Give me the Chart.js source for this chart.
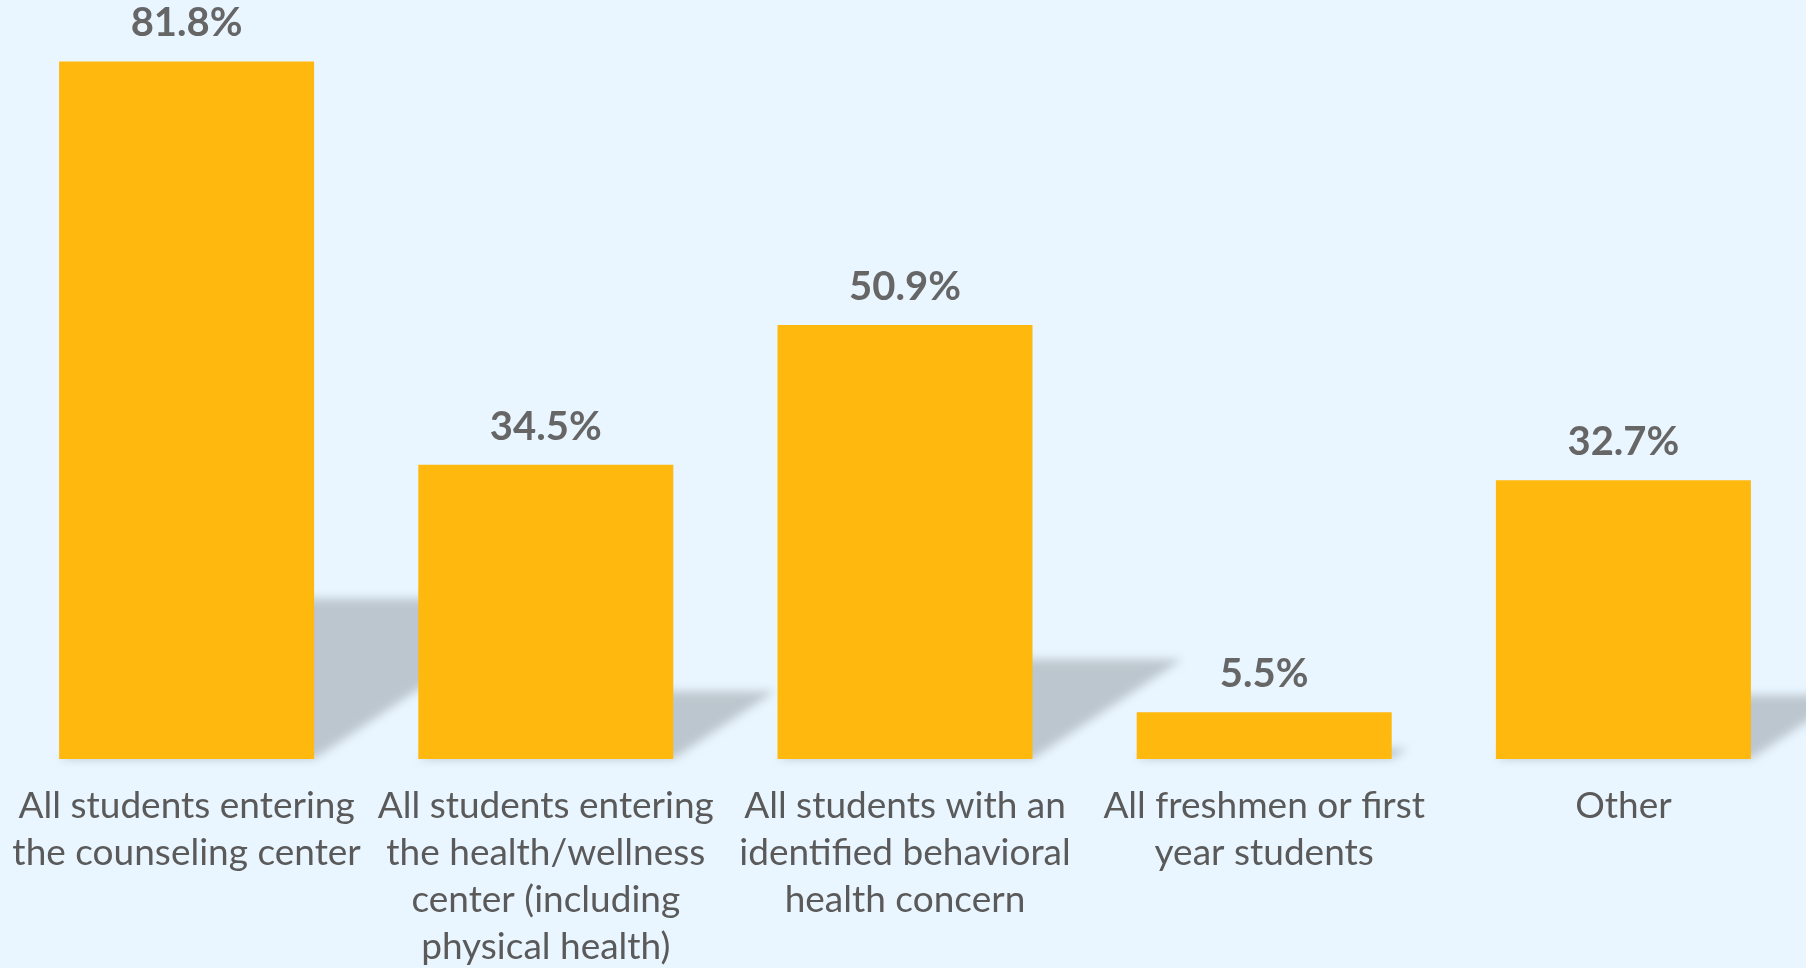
<!DOCTYPE html>
<html>
<head>
<meta charset="utf-8">
<script src="https://cdn.jsdelivr.net/npm/chart.js@4"></script>
<style>
  html, body { margin: 0; padding: 0; background: #eaf6ff; }
  #screening { display: block; }
</style>
</head>
<body>
<canvas id="screening" width="1806" height="968"></canvas>
<script>
// categories and percentages
var categories = [
    ['All students entering', 'the counseling center'],
    ['All students entering', 'the health/wellness', 'center (including', 'physical health)'],
    ['All students with an', 'identified behavioral', 'health concern'],
    ['All freshmen or first', 'year students'],
    ['Other']
];
var percents = [81.8, 34.5, 50.9, 5.5, 32.7];

var barColor = '#ffb80d';
var textGray = '#5a5a5a';

// slanted grey "floor" shadow behind each bar
var shadowPlugin = {
    id: 'barShadow',
    beforeDatasetsDraw: (chart) => {
        var ctx = chart.ctx;
        var meta = chart.getDatasetMeta(0);
        ctx.save();
        ctx.filter = 'blur(5px)';
        ctx.fillStyle = '#bcc6ce';
        meta.data.forEach((bar) => {
            var left = bar.x - bar.width / 2;
            var right = bar.x + bar.width / 2;
            var sh = (bar.base - bar.y) * 0.23;
            var dx = sh * 1.5;
            ctx.beginPath();
            ctx.moveTo(left, bar.base);
            ctx.lineTo(right, bar.base);
            ctx.lineTo(right + dx, bar.base - sh);
            ctx.lineTo(left + dx, bar.base - sh);
            ctx.closePath();
            ctx.fill();
        });
        ctx.restore();
    }
};

// value labels above bars
var valueLabels = {
    id: 'valueLabels',
    afterDatasetsDraw: (chart) => {
        var ctx = chart.ctx;
        var meta = chart.getDatasetMeta(0);
        ctx.save();
        ctx.font = 'bold 40px Lato';
        ctx.fillStyle = '#666666';
        ctx.textAlign = 'center';
        ctx.textBaseline = 'middle';
        meta.data.forEach((bar, i) => {
            ctx.fillText(percents[i].toFixed(1) + '%', bar.x, bar.y - 38);
        });
        ctx.restore();
    }
};

var myChart = new Chart($id('screening'), {
    type: 'bar',
    data: {
        labels: categories,
        datasets: [{
            label: 'Screening',
            data: percents,
            backgroundColor: barColor,
            borderWidth: 0,
            categoryPercentage: 1,
            barPercentage: 0.71
        }]
    },
    options: {
        responsive: false,
        animation: false,
        layout: { padding: { left: 7, right: 3, top: 0, bottom: -27 } },
        plugins: {
            legend: { display: false },
            tooltip: { enabled: false }
        },
        scales: {
            y: {
                display: false,
                min: 0,
                max: 89
            },
            x: {
                grid: { display: false, drawTicks: false },
                border: { display: false },
                // labels may spill a bit, don't let them squeeze the bars
                afterFit: (scale) => {
                    scale.paddingLeft = 0;
                    scale.paddingRight = 0;
                },
                ticks: {
                    color: textGray,
                    padding: 24,
                    autoSkip: false,
                    maxRotation: 0,
                    minRotation: 0,
                    font: { family: 'Lato', size: 37, lineHeight: 1.27 }
                }
            }
        }
    },
    plugins: [shadowPlugin, valueLabels]
});

function $id(id) { return document.getElementById(id); }
</script>
</body>
</html>
